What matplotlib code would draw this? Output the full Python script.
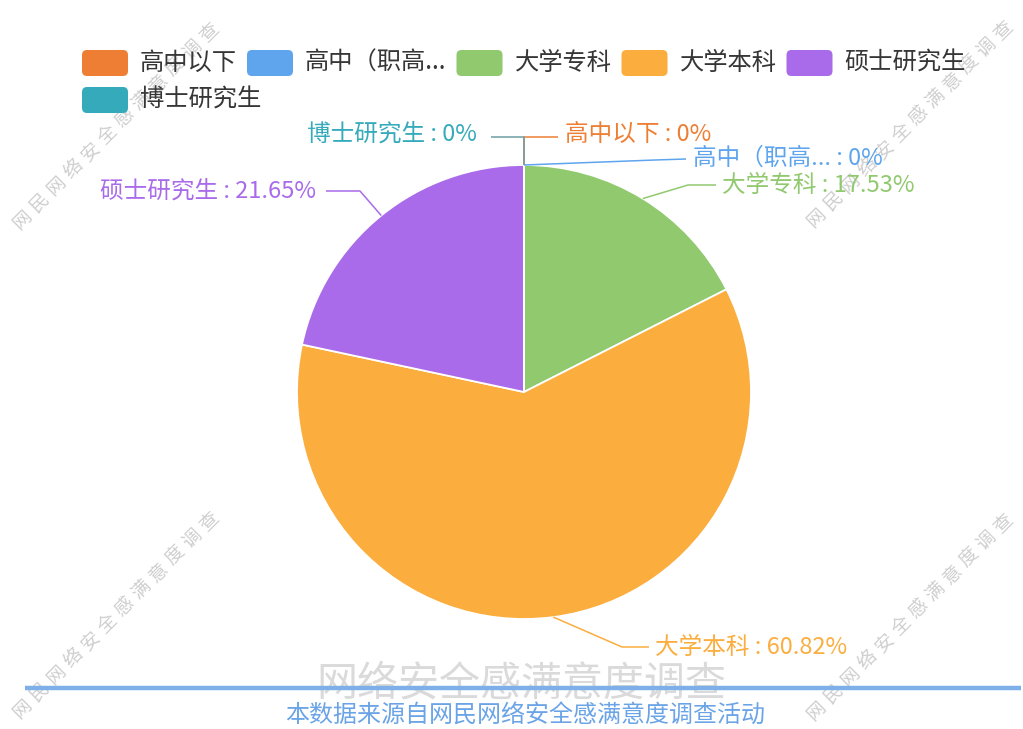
import matplotlib
matplotlib.use("Agg")
import matplotlib.pyplot as plt
from matplotlib.patches import FancyBboxPatch
import numpy as np

plt.rcParams['font.family'] = ['Noto Sans CJK SC', 'DejaVu Sans']

# ---------------- data ----------------
categories = ["高中以下", "高中（职高...", "大学专科", "大学本科", "硕士研究生", "博士研究生"]
values = [0, 0, 17.53, 60.82, 21.65, 0]
colors = ["#EE7E33", "#5EA5EE", "#91C96F", "#FBAD3E", "#A96BEA", "#35AABB"]
watermark_text = "网民网络安全感满意度调查"
subtitle_text = "网络安全感满意度调查"
source_text = "本数据来源自网民网络安全感满意度调查活动"

# ---------------- layout (pixels, origin top-left) ----------------
W, H = 1023, 729
CX, CY, R = 524, 392, 227


def P(x, y):
    return ((x - CX) / R, (CY - y) / R)


fig = plt.figure(figsize=(W / 100, H / 100), dpi=100)
fig.patch.set_facecolor("white")
ax = fig.add_axes([0, 0, 1, 1])

# watermarks (drawn under the pie)
wm_centers = [(116, 126), (910, 124), (116, 615), (910, 617)]
step = 24.0
for (wx, wy) in wm_centers:
    n = len(watermark_text)
    for i, ch in enumerate(watermark_text):
        off = (i - (n - 1) / 2) * step
        x = wx + off / np.sqrt(2)
        y = wy - off / np.sqrt(2)
        ax.text(*P(x, y), ch, rotation=45, ha="center", va="center",
                fontsize=13.5, color="#c2c2c2", alpha=0.8, zorder=1)

wedges, _ = ax.pie(values, colors=colors, startangle=90, counterclock=False,
                   radius=1, center=(0, 0),
                   wedgeprops=dict(edgecolor="white", linewidth=1.3))
for w in wedges:
    w.set_zorder(3)

ax.set_aspect("auto")
ax.set_xlim(P(0, 0)[0], P(W, 0)[0])
ax.set_ylim(P(0, H)[1], P(0, 0)[1])
ax.axis("off")

# label layout: elbow, end of leader line, text anchor, alignment
label_layout = {
    "高中以下": ((524, 137), (558, 137), (565, 134), "left"),
    "高中（职高...": ((655, 160), (686, 159), (693, 158), "left"),
    "大学专科": ((688, 185), (716, 185), (722, 185), "left"),
    "大学本科": ((622, 647), (649, 647), (655, 647), "left"),
    "硕士研究生": ((360, 191), (326, 191), (316, 191), "right"),
    "博士研究生": ((524, 137), (491, 137), (477, 134), "right"),
}

total = sum(values)
cum = 0.0
mids = []
for v in values:
    mids.append((cum + v / 2) / total * 360.0)
    cum += v

for i, name in enumerate(categories):
    th = np.deg2rad(mids[i])
    sx, sy = np.sin(th), np.cos(th)
    elbow, end, tpos, ha = label_layout[name]
    ex, ey = P(*elbow)
    fx, fy = P(*end)
    lc = colors[i] if name != "博士研究生" else "#6E9EA3"
    ax.plot([sx, ex, fx], [sy, ey, fy], color=lc, lw=1.1, zorder=4,
            solid_capstyle="butt")
    ax.text(*P(*tpos), f"{name} : {values[i]:g}%", ha=ha, va="center",
            fontsize=17, color=colors[i], zorder=5)

# legend (manual flow layout)
renderer = fig.canvas.get_renderer()
lx0, ly = 82, 63
x = lx0
row_h = 37
icon_w, icon_h = 46, 26
for i, name in enumerate(categories):
    if i == 5:
        x = lx0
        ly += row_h
    bx, by = P(x, ly + icon_h / 2)
    box = FancyBboxPatch((bx, by), icon_w / R, icon_h / R,
                         boxstyle=f"round,pad=0,rounding_size={5 / R}",
                         facecolor=colors[i], edgecolor="none", zorder=6)
    ax.add_patch(box)
    t = ax.text(*P(x + icon_w + 12, ly), name, ha="left", va="center",
                fontsize=17.5, color="#363636", zorder=6)
    bb = t.get_window_extent(renderer=renderer)
    x = x + icon_w + 12 + bb.width + 10

# bottom decoration
ax.text(*P(521, 684), subtitle_text, ha="center", va="center",
        fontsize=29.5, color="#dadada", fontweight="light", zorder=2)
ax.plot([P(25, 0)[0], P(1021, 0)[0]], [P(0, 688)[1]] * 2,
        color="#7DAFE9", lw=3.2, zorder=7, solid_capstyle="butt")
ax.text(*P(525, 716), source_text, ha="center", va="center",
        fontsize=17.3, color="#6AA4E6", zorder=7)

fig.savefig("out.png", dpi=100, facecolor="white")
